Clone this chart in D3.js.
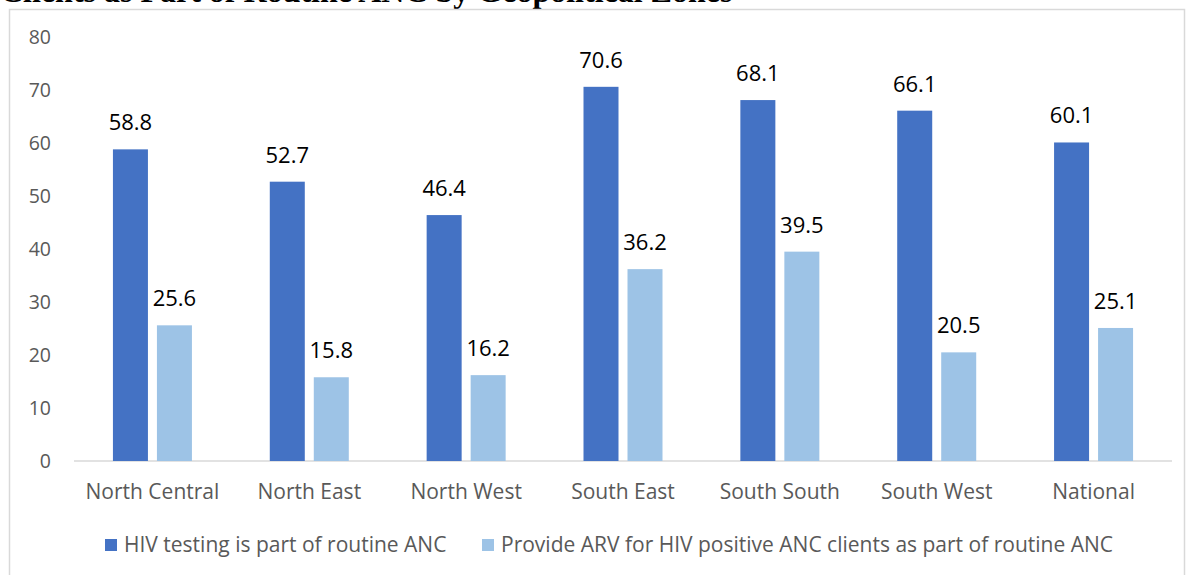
<!DOCTYPE html>
<html>
<head>
<meta charset="utf-8">
<script src="https://cdn.jsdelivr.net/npm/d3@7"></script>
<style>
  body { margin: 0; background: #fff; }
  #chart { width: 1187px; height: 575px; overflow: hidden; }
</style>
</head>
<body>
<div id="chart"></div>
<script>
const categories = ['North Central', 'North East', 'North West', 'South East', 'South South', 'South West', 'National'];
const hivTesting = [58.8, 52.7, 46.4, 70.6, 68.1, 66.1, 60.1];
const provideArv = [25.6, 15.8, 16.2, 36.2, 39.5, 20.5, 25.1];
const seriesNames = ['HIV testing is part of routine ANC', 'Provide ARV for HIV positive ANC clients as part of routine ANC'];
const yTicks = [0, 10, 20, 30, 40, 50, 60, 70, 80];

const width = 1187, height = 575;
const colors = ['#4472c4', '#9dc3e6'];
const font = '"Open Sans", "Noto Sans", sans-serif';

const svg = d3.select('#chart').append('svg')
  .attr('width', width)
  .attr('height', height);

// title cut off at top of image
svg.append('text')
  .attr('x', 0)
  .attr('y', 2)
  .style('font-family', '"Liberation Serif", "Times New Roman", serif')
  .style('font-weight', 'bold')
  .style('font-size', '32px')
  .style('fill', '#000')
  .text('Clients as Part of Routine ANC by Geopolitical Zones');

// chart frame
svg.append('rect')
  .attr('x', 9.5).attr('y', 9.5)
  .attr('width', 1175).attr('height', 600)
  .attr('fill', 'none')
  .attr('stroke', '#d9d9d9')
  .attr('stroke-width', 1.5);

const plot = { left: 74, right: 1172, top: 37, bottom: 461 };

const x = d3.scaleBand()
  .domain(categories)
  .range([plot.left, plot.right]);

const y = d3.scaleLinear()
  .domain([0, 80])
  .range([plot.bottom, plot.top]);

const barW = 35, gap = 9;

// y tick labels
svg.append('g').selectAll('text')
  .data(yTicks)
  .join('text')
  .attr('x', 51)
  .attr('y', d => y(d))
  .attr('dy', '0.35em')
  .attr('text-anchor', 'end')
  .style('font-family', font)
  .style('font-size', '19.5px')
  .style('fill', '#595959')
  .text(d => d);

// baseline
svg.append('line')
  .attr('x1', plot.left).attr('x2', plot.right)
  .attr('y1', y(0)).attr('y2', y(0))
  .attr('stroke', '#d9d9d9')
  .attr('stroke-width', 1.5);

const series = [hivTesting, provideArv];
series.forEach((vals, s) => {
  const offset = s === 0 ? -(barW + gap / 2) : gap / 2;
  const g = svg.append('g');
  g.selectAll('rect')
    .data(vals)
    .join('rect')
    .attr('x', (d, i) => x(categories[i]) + x.bandwidth() / 2 + offset)
    .attr('y', d => y(d))
    .attr('width', barW)
    .attr('height', d => y(0) - y(d))
    .attr('fill', colors[s]);
  g.selectAll('text')
    .data(vals)
    .join('text')
    .attr('x', (d, i) => x(categories[i]) + x.bandwidth() / 2 + offset + barW / 2)
    .attr('y', d => y(d) - 19)
    .attr('text-anchor', 'middle')
    .style('font-family', font)
    .style('font-size', '22px')
    .style('fill', '#000')
    .text(d => d.toFixed(1));
});

// category labels
svg.append('g').selectAll('text')
  .data(categories)
  .join('text')
  .attr('x', d => x(d) + x.bandwidth() / 2)
  .attr('y', 499)
  .attr('text-anchor', 'middle')
  .style('font-family', font)
  .style('font-size', '21px')
  .style('fill', '#595959')
  .text(d => d);

// legend
const legendX = [105, 482];
seriesNames.forEach((name, i) => {
  svg.append('rect')
    .attr('x', legendX[i]).attr('y', 539)
    .attr('width', 12).attr('height', 12)
    .attr('fill', colors[i]);
  svg.append('text')
    .attr('x', legendX[i] + 19)
    .attr('y', 552)
    .style('font-family', font)
    .style('font-size', '21px')
    .style('fill', '#595959')
    .text(name);
});
</script>
</body>
</html>
